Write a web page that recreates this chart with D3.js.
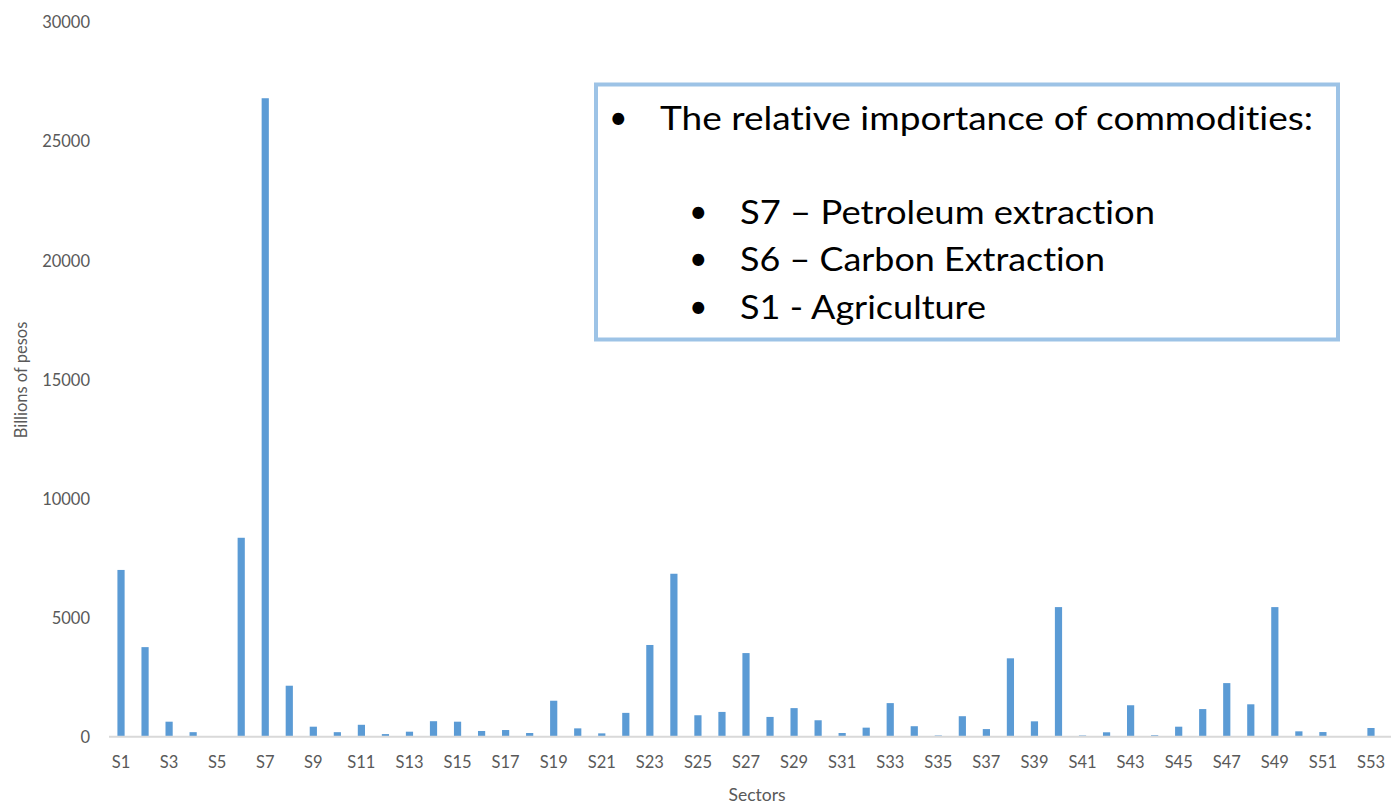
<!DOCTYPE html>
<html>
<head>
<meta charset="utf-8">
<script src="https://cdn.jsdelivr.net/npm/d3@7"></script>
<style>
  html, body { margin: 0; padding: 0; background: #fff; }
  svg { display: block; }
  text { font-family: Lato, "Open Sans", sans-serif; font-variant-ligatures: none; font-feature-settings: "liga" 0, "clig" 0, "dlig" 0; }
</style>
</head>
<body>
<svg id="chart" width="1391" height="804"></svg>
<script>
const categories = d3.range(1, 54).map(i => "S" + i);
const values = [
  7000, 3760, 630, 190, 0, 8350, 26800, 2140, 420, 190,
  500, 110, 210, 650, 630, 240, 280, 155, 1510, 350,
  140, 1000, 3850, 6840, 900, 1040, 3510, 830, 1200, 690,
  155, 380, 1410, 440, 50, 860, 320, 3290, 645, 5440,
  50, 185, 1320, 60, 420, 1160, 2250, 1360, 5440, 225,
  195, 0, 365
];
const yTicks = [0, 5000, 10000, 15000, 20000, 25000, 30000];
const xTickLabels = categories.filter((c, i) => i % 2 === 0);
const yTitle = "Billions of pesos";
const xTitle = "Sectors";
const boxTitle = "The relative importance of commodities:";
const boxItems = ["S7 – Petroleum extraction", "S6 – Carbon Extraction", "S1 - Agriculture"];

(function () {
const svg = d3.select("#chart");
const W = 1391;
const mLeft = 109, mRight = 1383, mTop = 22, mBottom = 736.7;

const x = d3.scaleBand().domain(categories).range([mLeft, mRight]).paddingInner(0.7).paddingOuter(0.35);
const y = d3.scaleLinear().domain([0, 30000]).range([mBottom, mTop]);

// bars
svg.append("g").selectAll("rect").data(values).join("rect")
  .attr("x", (d, i) => x(categories[i]) + x.bandwidth() / 2 - 3.6)
  .attr("width", 7.2)
  .attr("y", d => y(d))
  .attr("height", d => mBottom - y(d))
  .attr("fill", "#5B9BD5");

// baseline
svg.append("line").attr("x1", mLeft).attr("x2", W).attr("y1", mBottom).attr("y2", mBottom)
  .attr("stroke", "#D9D9D9").attr("stroke-width", 2);

// y axis labels
const yAxis = d3.axisLeft(y).tickValues(yTicks).tickSize(0).tickPadding(0).tickFormat(d3.format("d"));
const gy = svg.append("g").attr("transform", "translate(90,0)").call(yAxis);
gy.select(".domain").remove();
gy.selectAll("text").attr("fill", "#595959").style("font-size", "16.5px").style("font-family", "Lato, sans-serif")
  .attr("dy", "0.35em");

// x axis labels
const xAxis = d3.axisBottom(x).tickValues(xTickLabels).tickSize(0).tickPadding(0);
const gx = svg.append("g").attr("transform", `translate(0,${mBottom})`).call(xAxis);
gx.select(".domain").remove();
gx.selectAll("text").attr("fill", "#595959").style("font-size", "16.5px").style("font-family", "Lato, sans-serif")
  .attr("y", 31).attr("dy", 0);

// axis titles
svg.append("text").attr("transform", "translate(27,380) rotate(-90)").attr("text-anchor", "middle")
  .attr("fill", "#595959").style("font-size", "16.5px").text(yTitle);
svg.append("text").attr("x", 757).attr("y", 801).attr("text-anchor", "middle")
  .attr("fill", "#595959").style("font-size", "17.5px").text(xTitle);

// annotation box
svg.append("rect").attr("x", 596).attr("y", 84.5).attr("width", 742).attr("height", 255)
  .attr("fill", "#fff").attr("stroke", "#9DC3E6").attr("stroke-width", 4);
svg.append("text").attr("x", 609).attr("y", 129).attr("fill", "#000").style("font-size", "32px").text("•");
svg.append("text").attr("x", 660).attr("y", 130).attr("fill", "#000").style("font-size", "33px")
  .attr("textLength", 653).attr("lengthAdjust", "spacingAndGlyphs").text(boxTitle);
const itemWidths = [415, 365, 246];
boxItems.forEach((t, i) => {
  const by = 223.5 + i * 47.5;
  svg.append("text").attr("x", 689).attr("y", by - 1).attr("fill", "#000").style("font-size", "32px").text("•");
  svg.append("text").attr("x", 740).attr("y", by).attr("fill", "#000").style("font-size", "33px")
    .attr("textLength", itemWidths[i]).attr("lengthAdjust", "spacingAndGlyphs").text(t);
});
})();
</script>
</body>
</html>
